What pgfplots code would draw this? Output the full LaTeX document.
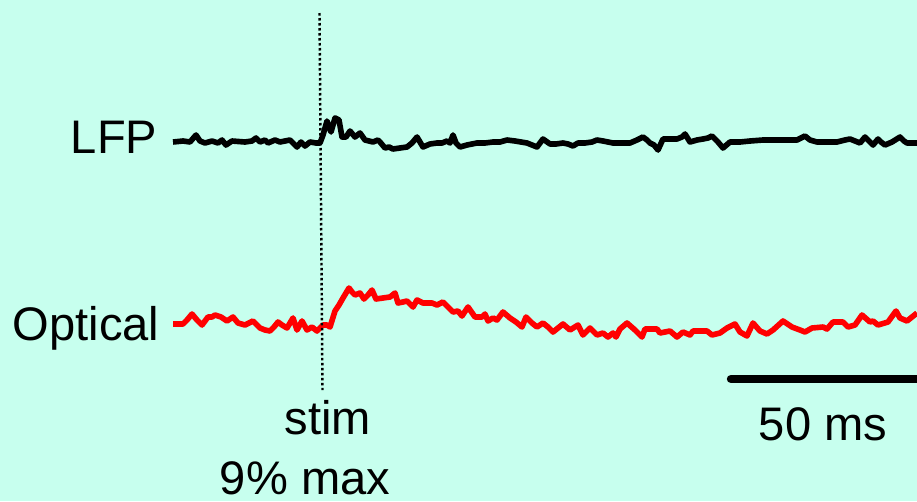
\documentclass[border=0pt]{standalone}
\usepackage{fontspec}
\setmainfont{Liberation Sans}
\usepackage{pgfplots}
\pgfplotsset{compat=1.18}
\definecolor{bgmint}{HTML}{C7FFEE}
\definecolor{optred}{HTML}{FF0000}
\tikzset{lab/.style={font=\fontsize{13.4}{15}\selectfont, inner sep=0pt}}

\begin{document}
\begin{tikzpicture}
\fill[bgmint] (0,0) rectangle (91.7mm,50.1mm);
\begin{axis}[
  scale only axis, width=91.7mm, height=50.1mm,
  xmin=0, xmax=917, ymin=0, ymax=501, y dir=reverse,
  hide axis, clip=true,
]
% LFP trace (pixel coordinates)
\addplot[black, line width=1.6pt, line join=round] coordinates {
  (173,142) (183,141) (190,142) (196,135) (200,141) (205,143) (212,141)
  (218,143) (222,140) (226,145) (232,141) (245,142) (252,141) (256,138)
  (260,142) (265,140) (268,143) (275,140) (280,142) (285,141) (290,140)
  (297,147) (301,142) (305,146) (310,142) (316,143) (320,143)
  (323,135) (327,121) (331,132) (335,118) (339,120) (342,137) (346,137)
  (350,131) (355,137) (360,133) (365,140) (369,141) (373,142) (378,140)
  (380,142) (385,148) (389,147) (393,149) (400,148) (407,147) (412,143)
  (417,137) (423,147) (430,144) (437,143) (442,143) (447,141) (450,143)
  (453,135) (456,143) (460,147) (467,145) (472,144) (477,143) (485,143)
  (493,142) (500,142) (507,140) (515,141) (521,142) (527,143) (537,147)
  (543,139) (550,144) (556,144) (563,143) (568,144) (573,146) (578,143)
  (585,143) (592,142) (597,140) (603,141) (608,142) (613,143) (620,143)
  (630,143) (637,140) (643,137) (647,140) (650,143) (654,145) (658,150)
  (663,139) (670,139) (677,139) (682,137) (685,134) (690,142) (697,140)
  (703,139) (708,138) (712,136) (718,142) (723,148) (730,142) (740,142)
  (750,141) (763,140) (775,140) (785,140) (797,140) (805,136) (810,140)
  (817,142) (827,142) (837,142) (845,140) (850,139) (855,141) (860,143)
  (865,137) (869,141) (873,145) (878,139) (881,142) (885,145) (892,142)
  (900,137) (904,141) (907,143) (912,143) (917,143)};
% optical trace
\addplot[optred, line width=1.6pt, line join=round] coordinates {
  (173,324) (183,324) (187,320) (192,314) (197,320) (202,325) (205,321)
  (208,317) (212,317) (215,315) (221,317) (227,321) (233,317) (238,323)
  (245,325) (249,323) (253,321) (256,324) (260,328) (265,330) (270,331)
  (274,327) (278,322) (282,325) (287,328) (293,318) (297,330) (302,321)
  (307,330) (312,327) (317,331) (320,328) (323,325) (327,325) (330,327)
  (335,311) (339,305) (343,298) (349,288) (352,292) (355,295) (360,293)
  (364,299) (368,295) (372,290) (376,299) (383,298) (390,297) (395,293)
  (398,303) (403,302) (407,301) (413,307) (417,300) (423,303) (432,303)
  (437,305) (443,302) (447,306) (453,312) (458,311) (462,316) (468,307)
  (475,317) (482,317) (485,314) (488,321) (493,318) (497,320) (503,312)
  (510,318) (516,322) (522,327) (526,317) (532,323) (537,327) (543,323)
  (548,327) (553,332) (563,324) (570,330) (578,325) (583,335) (590,328)
  (597,335) (603,333) (608,337) (613,333) (616,337) (620,329) (627,323)
  (635,330) (642,337) (645,329) (651,329) (657,329) (660,333) (670,331)
  (677,337) (683,332) (690,335) (693,331) (700,331) (707,331) (712,335)
  (720,333) (727,328) (735,324) (740,332) (747,336) (753,323) (760,331)
  (767,334) (773,330) (783,321) (792,327) (800,330) (805,332) (812,328)
  (823,327) (827,329) (833,322) (843,322) (848,327) (855,325) (862,315)
  (870,322) (873,321) (878,325) (888,322) (896,311) (900,318) (907,321)
  (912,317) (917,313)};
% stimulus marker
\addplot[black, line width=0.7pt, dash pattern=on 0.25mm off 0.25mm]
  coordinates {(319.5,13) (322.5,390)};
% scale bar
\addplot[black, line width=2.4pt, line cap=round] coordinates {(731,379) (930,379)};

\node[lab, anchor=east] at (axis cs:158,137) {LFP};
\node[lab, anchor=east] at (axis cs:160,328) {Optical};
\node[lab] at (axis cs:328,418) {stim};
\node[lab] at (axis cs:305,478) {9\% max};
\node[lab] at (axis cs:823,424) {50 ms};
\end{axis}
\end{tikzpicture}
\end{document}
